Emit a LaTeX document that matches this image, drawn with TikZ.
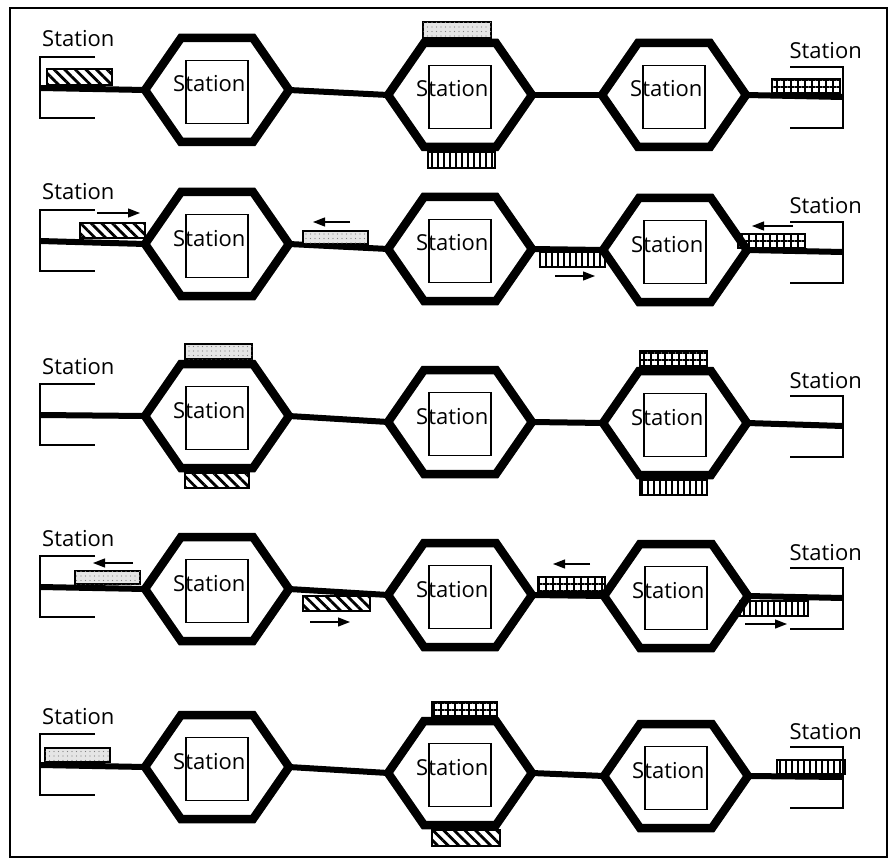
\documentclass[tikz,border=0pt]{standalone}
\usepackage{fontspec}
\setmainfont{Open Sans}
\usetikzlibrary{patterns.meta,arrows.meta}
\tikzset{
  hexline/.style={line width=8.5pt, line join=miter},
  trackline/.style={line width=6pt},
  sqbox/.style={draw, line width=1.1pt, minimum width=62pt, minimum height=63pt, inner sep=0pt},
  lbl/.style={font=\fontsize{22}{26}\selectfont, inner sep=0pt},
  brk/.style={line width=1.2pt},
  trainbox/.style={draw, line width=1.3pt},
  hatched/.style={trainbox, pattern={Lines[angle=-45,distance=7.5pt,line width=2.8pt]}},
  vlined/.style={trainbox, pattern={Lines[angle=90,distance=6pt,line width=2.8pt]}},
  gridded/.style={trainbox, pattern={Hatch[angle=0,distance=7pt,line width=1.1pt]}},
  stipple/.style={trainbox, fill=black!10, postaction={pattern={Dots[distance=4.5pt,radius=0.55pt]}, pattern color=black!50}},
  arr/.style={line width=1.3pt, -{Triangle[length=12pt,width=9pt]}},
  framebox/.style={line width=1.5pt}
}
\newcommand\hexst[3]{%
  \begin{scope}[shift={(#2,#3)}]
    \coordinate (#1-L) at (-72,0);
    \coordinate (#1-R) at (72,0);
    \draw[hexline] (#1-L) -- (-36,-52) -- (36,-52) -- (#1-R) -- (36,52) -- (-36,52) -- cycle;
    \node[sqbox] (#1-sq) at (0,2) {};
    \node[lbl,anchor=base west] (#1-t) at (-44,2) {Station};
  \end{scope}}
\newcommand\leftterm[2]{%
  \begin{scope}[shift={(40,#2)}]
    \coordinate (#1) at (0,0);
    \draw[brk] (55,-31) -- (0,-31) -- (0,30) -- (55,30);
    \node[lbl,anchor=base west] (#1-t) at (2,-41) {Station};
  \end{scope}}
\newcommand\rightterm[2]{%
  \begin{scope}[shift={(843,#2)}]
    \coordinate (#1) at (0,0);
    \draw[brk] (-53,-30) -- (0,-30) -- (0,31) -- (-53,31);
    \node[lbl,anchor=base east] (#1-t) at (19,-38) {Station};
  \end{scope}}
\begin{document}
\begin{tikzpicture}[x=1pt,y=-1pt]
\useasboundingbox (0,0) rectangle (895,864);
\draw[framebox] (10,8) rectangle (887,857);

% terminals
\leftterm{L1}{88}  \rightterm{R1}{97}
\leftterm{L2}{241} \rightterm{R2}{252}
\leftterm{L3}{415} \rightterm{R3}{426}
\leftterm{L4}{587} \rightterm{R4}{598}
\leftterm{L5}{765} \rightterm{R5}{777}

% hexagon stations
\hexst{h11}{217}{90}  \hexst{h12}{460}{95}  \hexst{h13}{674}{95}
\hexst{h21}{217}{244} \hexst{h22}{460}{249} \hexst{h23}{675}{250}
\hexst{h31}{217}{416} \hexst{h32}{460}{422} \hexst{h33}{675}{423}
\hexst{h41}{217}{589} \hexst{h42}{460}{595} \hexst{h43}{676}{596}
\hexst{h51}{217}{767} \hexst{h52}{460}{773} \hexst{h53}{676}{776}

% tracks
\foreach \r in {1,...,5}{
  \draw[trackline] (L\r) -- (h\r1-L);
  \draw[trackline] (h\r1-R) -- (h\r2-L);
  \draw[trackline] (h\r2-R) -- (h\r3-L);
  \draw[trackline] (h\r3-R) -- (R\r);
}

% row 1
\draw[hatched] (47,69) rectangle (112,85);
\draw[stipple] (423,22) rectangle (491,38);
\draw[vlined] (428,152) rectangle (495,168);
\draw[gridded] (772,79) rectangle (840,93);

% row 2
\draw[hatched] (80,223) rectangle (145,238);
\draw[arr] (97,213) -- (140,213);
\draw[stipple] (303,231) rectangle (368,244);
\draw[arr] (350,222) -- (313,222);
\draw[vlined] (540,252) rectangle (605,267);
\draw[arr] (555,276) -- (595,276);
\draw[gridded] (738,234) rectangle (805,248);
\draw[arr] (793,226) -- (752,226);

% row 3
\draw[stipple] (185,344) rectangle (252,359);
\draw[hatched] (185,473) rectangle (249,488);
\draw[gridded] (640,351) rectangle (707,366);
\draw[vlined] (640,480) rectangle (707,495);

% row 4
\draw[stipple] (75,571) rectangle (140,584);
\draw[arr] (133,563) -- (93,563);
\draw[hatched] (303,596) rectangle (370,611);
\draw[arr] (310,622) -- (350,622);
\draw[gridded] (538,577) rectangle (605,592);
\draw[arr] (590,564) -- (553,564);
\draw[vlined] (740,601) rectangle (808,616);
\draw[arr] (745,624) -- (787,624);

% row 5
\draw[stipple] (45,748) rectangle (110,762);
\draw[gridded] (432,702) rectangle (497,716);
\draw[hatched] (432,830) rectangle (500,846);
\draw[vlined] (777,760) rectangle (845,774);
\end{tikzpicture}
\end{document}
